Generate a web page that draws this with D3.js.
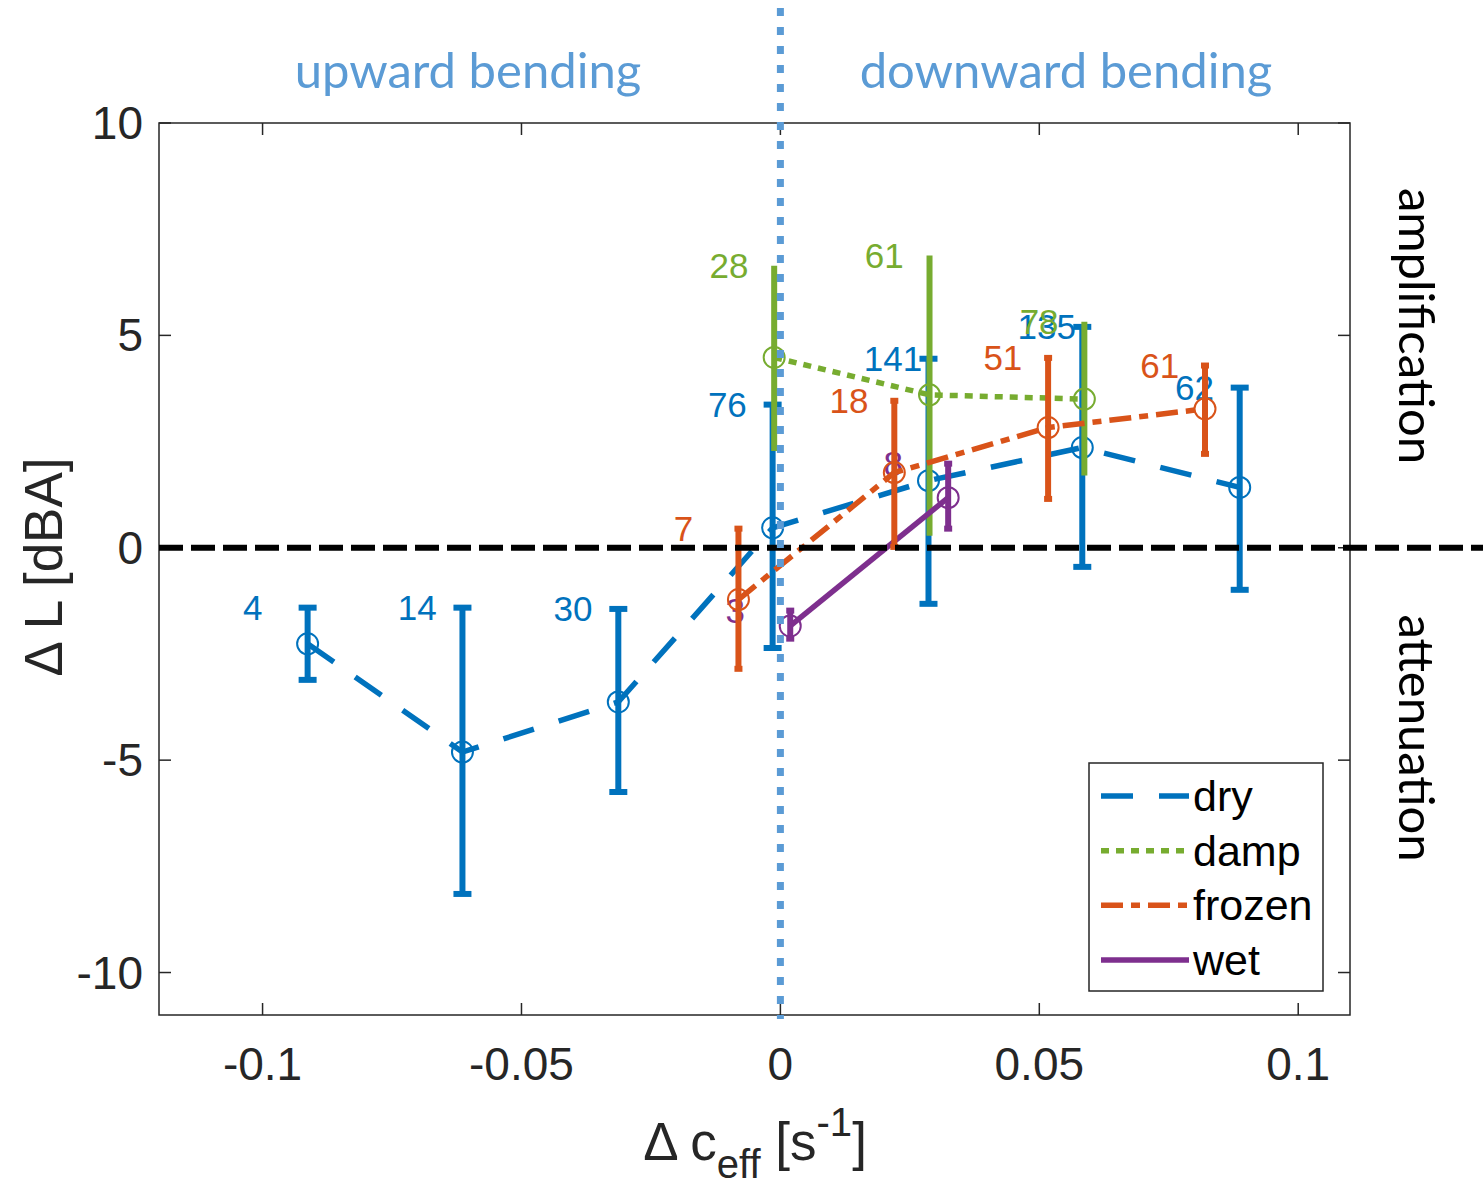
<!DOCTYPE html>
<html>
<head>
<meta charset="utf-8">
<script src="https://cdn.jsdelivr.net/npm/d3@7"></script>
<style>
  body { margin: 0; background: #fff; }
  svg text { font-family: "Liberation Sans", Arial, sans-serif; }
</style>
</head>
<body>
<svg id="chart" width="1483" height="1185"></svg>
<script>
// series values
const dryX  = [-0.0913, -0.0614, -0.0313, -0.0015, 0.0286, 0.0583, 0.0887];
const dryY  = [-2.26, -4.81, -3.63, 0.47, 1.58, 2.36, 1.42];
const dryLo = [-3.11, -8.15, -5.75, -2.36, -1.32, -0.45, -0.99];
const dryHi = [-1.41, -1.41, -1.44, 3.37, 4.45, 5.20, 3.77];
const dryN  = ["4", "14", "30", "76", "141", "135", "62"];

const dampX  = [-0.0012, 0.0288, 0.0587];
const dampY  = [4.48, 3.60, 3.50];
const dampLo = [2.28, 0.28, 1.70];
const dampHi = [6.64, 6.88, 5.32];
const dampN  = ["28", "61", "78"];

const frozenX  = [-0.0081, 0.0220, 0.0517, 0.0820];
const frozenY  = [-1.22, 1.77, 2.83, 3.27];
const frozenLo = [-2.85, 0.02, 1.15, 2.21];
const frozenHi = [0.45, 3.46, 4.47, 4.29];
const frozenN  = ["7", "18", "51", "61"];

const wetX  = [0.0019, 0.0324];
const wetY  = [-1.84, 1.18];
const wetLo = [-2.14, 0.45];
const wetHi = [-1.48, 1.98];
const wetN  = ["3", "8"];

const xTicks = [-0.1, -0.05, 0, 0.05, 0.1];
const yTicks = [-10, -5, 0, 5, 10];

const margin = {left: 159, right: 1350, top: 123, bottom: 1015};

let x = d3.scaleLinear().domain([-0.12, 0.11]).range([margin.left, margin.right]);
let y = d3.scaleLinear().domain([-11, 10]).range([margin.bottom, margin.top]);

let chart = d3.select("#chart");

function zip(xs, ys, lo, hi, n) {
  return xs.map((v, i) => ({x: v, y: ys[i], lo: lo[i], hi: hi[i], n: n[i]}));
}

let series = {
  dry:    {color: "#0072BD", dash: "32,26",    cap: 9, data: zip(dryX, dryY, dryLo, dryHi, dryN)},
  damp:   {color: "#77AC30", dash: "8,7",      cap: 0, data: zip(dampX, dampY, dampLo, dampHi, dampN)},
  frozen: {color: "#D95319", dash: "22,8,9,8", cap: 4, data: zip(frozenX, frozenY, frozenLo, frozenHi, frozenN)},
  wet:    {color: "#7E2F8E", dash: null,       cap: 4, data: zip(wetX, wetY, wetLo, wetHi, wetN)}
};

// frame
let axisColor = "#262626";
chart.append("rect")
  .attr("x", margin.left).attr("y", margin.top)
  .attr("width", margin.right - margin.left).attr("height", margin.bottom - margin.top)
  .attr("fill", "none").attr("stroke", axisColor).attr("stroke-width", 1.5);

// inward ticks, all four sides
let tickLen = 12;
let ticks = chart.append("g").attr("stroke", axisColor).attr("stroke-width", 1.5);
xTicks.forEach(t => {
  ticks.append("line").attr("x1", x(t)).attr("x2", x(t)).attr("y1", margin.bottom).attr("y2", margin.bottom - tickLen);
  ticks.append("line").attr("x1", x(t)).attr("x2", x(t)).attr("y1", margin.top).attr("y2", margin.top + tickLen);
});
yTicks.forEach(t => {
  ticks.append("line").attr("x1", margin.left).attr("x2", margin.left + tickLen).attr("y1", y(t)).attr("y2", y(t));
  ticks.append("line").attr("x1", margin.right).attr("x2", margin.right - tickLen).attr("y1", y(t)).attr("y2", y(t));
});

chart.append("g").selectAll("text").data(xTicks).enter().append("text")
  .attr("x", d => x(d)).attr("y", 1080)
  .attr("text-anchor", "middle").attr("font-size", 46).attr("fill", axisColor)
  .text(d => String(d));

chart.append("g").selectAll("text").data(yTicks).enter().append("text")
  .attr("x", 143).attr("y", d => y(d)).attr("dy", "0.35em")
  .attr("text-anchor", "end").attr("font-size", 46).attr("fill", axisColor)
  .text(d => d);

// axis labels
chart.append("text")
  .attr("transform", "translate(62,567) rotate(-90)")
  .attr("text-anchor", "middle").attr("font-size", 53).attr("fill", axisColor)
  .text("\u0394 L [dBA]");

let xl = chart.append("text")
  .attr("x", 755).attr("y", 1160)
  .attr("text-anchor", "middle").attr("font-size", 53).attr("fill", axisColor);
xl.append("tspan").text("\u0394 c");
xl.append("tspan").attr("font-size", 40).attr("dy", 18).text("eff");
xl.append("tspan").attr("dy", -18).text(" [s");
xl.append("tspan").attr("font-size", 40).attr("dy", -24).text("-1");
xl.append("tspan").attr("dy", 24).text("]");

// series: counts, error bars, lines, markers
let labelShift = 0.0125;

function drawSeries(s) {
  let g = chart.append("g");
  g.append("g").selectAll("text").data(s.data).enter().append("text")
    .attr("x", d => x(d.x - labelShift)).attr("y", d => y(d.hi)).attr("dy", "0.35em")
    .attr("font-size", 35).attr("fill", s.color)
    .text(d => d.n);

  let bars = g.append("g").attr("stroke", s.color).attr("stroke-width", 6);
  bars.selectAll("line.v").data(s.data).enter().append("line").attr("class", "v")
    .attr("x1", d => x(d.x)).attr("x2", d => x(d.x))
    .attr("y1", d => y(d.lo)).attr("y2", d => y(d.hi));
  if (s.cap > 0) {
    bars.selectAll("line.top").data(s.data).enter().append("line").attr("class", "top")
      .attr("x1", d => x(d.x) - s.cap).attr("x2", d => x(d.x) + s.cap)
      .attr("y1", d => y(d.hi)).attr("y2", d => y(d.hi));
    bars.selectAll("line.bot").data(s.data).enter().append("line").attr("class", "bot")
      .attr("x1", d => x(d.x) - s.cap).attr("x2", d => x(d.x) + s.cap)
      .attr("y1", d => y(d.lo)).attr("y2", d => y(d.lo));
  }

  g.append("path").datum(s.data)
    .attr("fill", "none").attr("stroke", s.color).attr("stroke-width", 5.5)
    .attr("stroke-dasharray", s.dash)
    .attr("d", d3.line().x(d => x(d.x)).y(d => y(d.y)));

  g.append("g").selectAll("circle").data(s.data).enter().append("circle")
    .attr("cx", d => x(d.x)).attr("cy", d => y(d.y)).attr("r", 10.5)
    .attr("fill", "none").attr("stroke", s.color).attr("stroke-width", 2);
}

["dry", "damp", "wet", "frozen"].forEach(k => drawSeries(series[k]));

// zero line and c_eff = 0 divider
chart.append("line")
  .attr("x1", margin.left).attr("x2", 1483).attr("y1", y(0)).attr("y2", y(0))
  .attr("stroke", "#000").attr("stroke-width", 6).attr("stroke-dasharray", "24,8");

chart.append("line")
  .attr("x1", x(0)).attr("x2", x(0)).attr("y1", 8).attr("y2", margin.bottom + 4)
  .attr("stroke", "#5B9BD5").attr("stroke-width", 7).attr("stroke-dasharray", "8,11");

// region notes
let noteFont = "Lato, 'Open Sans', sans-serif";
chart.append("text").attr("x", 468).attr("y", 88)
  .attr("text-anchor", "middle").attr("font-size", 49).attr("fill", "#5B9BD5")
  .style("font-family", noteFont).text("upward bending");
chart.append("text").attr("x", 1066).attr("y", 88)
  .attr("text-anchor", "middle").attr("font-size", 49).attr("fill", "#5B9BD5")
  .style("font-family", noteFont).text("downward bending");
chart.append("text").attr("transform", "translate(1399,326) rotate(90)")
  .attr("text-anchor", "middle").attr("font-size", 49).attr("fill", "#000")
  .style("font-family", noteFont).text("amplification");
chart.append("text").attr("transform", "translate(1399,738) rotate(90)")
  .attr("text-anchor", "middle").attr("font-size", 49).attr("fill", "#000")
  .style("font-family", noteFont).text("attenuation");

// legend
let legendKeys = ["dry", "damp", "frozen", "wet"];
let legend = chart.append("g");
legend.append("rect").attr("x", 1089).attr("y", 763).attr("width", 234).attr("height", 228)
  .attr("fill", "#fff").attr("stroke", axisColor).attr("stroke-width", 1.5);
let rowY = d3.scalePoint().domain(legendKeys).range([796, 960]);
legendKeys.forEach(k => {
  legend.append("line")
    .attr("x1", 1101).attr("x2", 1189).attr("y1", rowY(k)).attr("y2", rowY(k))
    .attr("stroke", series[k].color).attr("stroke-width", 5.5)
    .attr("stroke-dasharray", series[k].dash);
  legend.append("text").attr("x", 1193).attr("y", rowY(k)).attr("dy", "0.35em")
    .attr("font-size", 43).attr("fill", "#000").text(k);
});
</script>
</body>
</html>
